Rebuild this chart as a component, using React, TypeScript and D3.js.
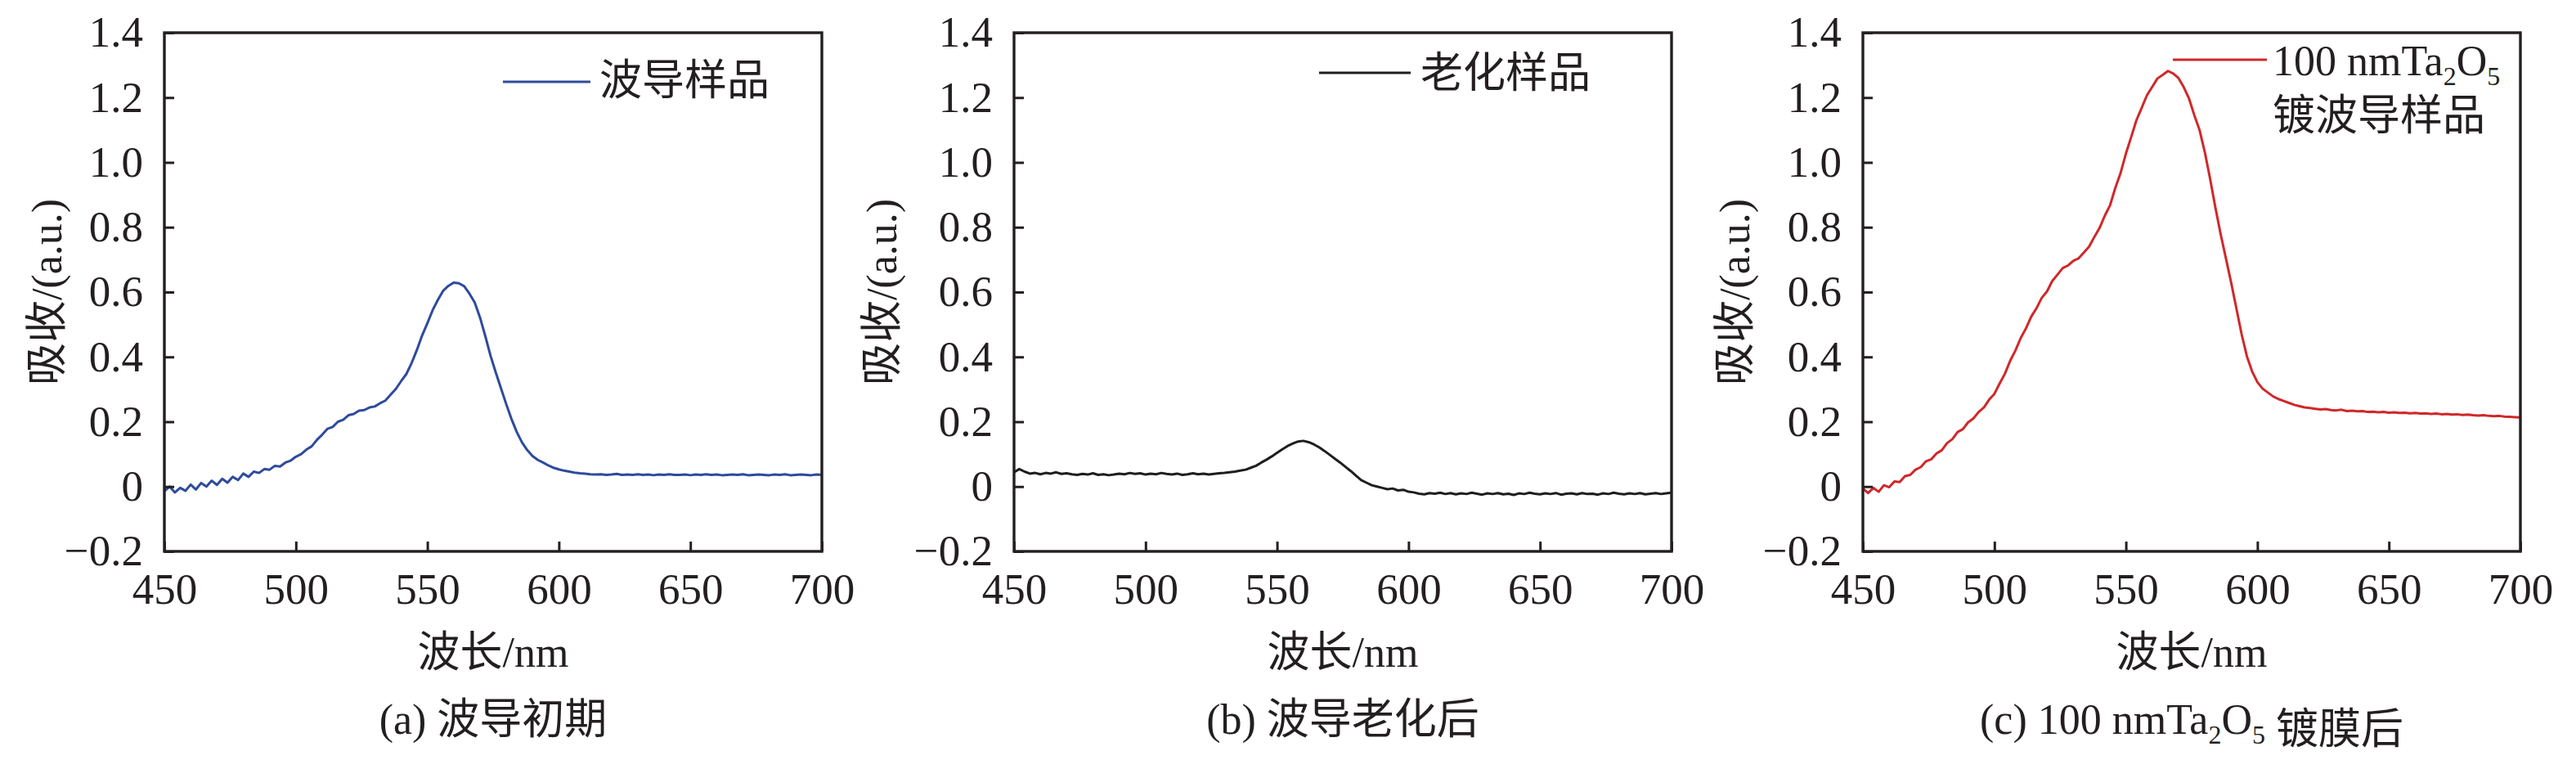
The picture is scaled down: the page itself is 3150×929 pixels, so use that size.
import { useEffect, useRef } from "react";
import * as d3 from "d3";

// wavelength grid, nm (2 nm sampling)
const wavelengths = d3.range(450, 701, 2);

// (a) 波导初期 — initial waveguide
const initialAbs = [
  -0.014, 0.0, -0.018, -0.004, -0.013, 0.006, -0.009, 0.011, 0.0, 0.018,
  0.005, 0.024, 0.012, 0.03, 0.02, 0.04, 0.03, 0.046, 0.042, 0.054,
  0.052, 0.064, 0.062, 0.074, 0.08, 0.092, 0.1, 0.114, 0.124, 0.144,
  0.16, 0.178, 0.184, 0.2, 0.206, 0.22, 0.224, 0.234, 0.236, 0.244,
  0.247, 0.257, 0.265, 0.283, 0.301, 0.325, 0.347, 0.381, 0.421, 0.466,
  0.504, 0.544, 0.576, 0.604, 0.619, 0.629, 0.627, 0.618, 0.595, 0.568,
  0.522, 0.465, 0.404, 0.352, 0.303, 0.254, 0.208, 0.168, 0.136, 0.112,
  0.094, 0.082, 0.074, 0.065, 0.058, 0.053, 0.049, 0.046, 0.043, 0.041,
  0.04, 0.038, 0.037, 0.038, 0.036, 0.037, 0.039, 0.036, 0.037, 0.036,
  0.038, 0.036, 0.037, 0.035, 0.037, 0.036, 0.038, 0.036, 0.036, 0.037,
  0.035, 0.037, 0.036, 0.038, 0.036, 0.037, 0.035, 0.036, 0.037, 0.036,
  0.038, 0.035, 0.036, 0.037, 0.036, 0.035, 0.037, 0.036, 0.038, 0.035,
  0.036, 0.037, 0.036, 0.035, 0.037, 0.036,
];

// (b) 波导老化后 — aged waveguide
const agedAbs = [
  0.044, 0.054, 0.046, 0.04, 0.042, 0.038, 0.042, 0.04, 0.044, 0.039,
  0.041, 0.038, 0.036, 0.039, 0.037, 0.041, 0.036, 0.038, 0.035, 0.037,
  0.04, 0.038, 0.042, 0.039, 0.041, 0.037, 0.04, 0.038, 0.042, 0.039,
  0.037, 0.04, 0.036, 0.038, 0.041, 0.038, 0.04, 0.037, 0.039, 0.041,
  0.042, 0.044, 0.046, 0.049, 0.052, 0.058, 0.064, 0.074, 0.083, 0.093,
  0.104, 0.115, 0.125, 0.133, 0.139, 0.141, 0.137, 0.13, 0.121, 0.11,
  0.098, 0.086, 0.074, 0.061, 0.048, 0.034, 0.02, 0.012, 0.004, 0.0,
  -0.004, -0.008, -0.006, -0.012, -0.01, -0.016, -0.018, -0.022, -0.024, -0.02,
  -0.022, -0.019, -0.023, -0.02, -0.024, -0.021, -0.023, -0.019, -0.022, -0.025,
  -0.021, -0.023, -0.02, -0.024, -0.022, -0.026, -0.021, -0.023, -0.019, -0.022,
  -0.024, -0.021, -0.023, -0.02, -0.025, -0.022, -0.021, -0.024, -0.02, -0.023,
  -0.022, -0.025, -0.021, -0.023, -0.019, -0.022, -0.024, -0.021, -0.023, -0.02,
  -0.024, -0.022, -0.02, -0.023, -0.021, -0.019,
];

// (c) 100 nm Ta2O5 coated waveguide
const coatedAbs = [
  -0.006, -0.02, -0.004, -0.016, 0.004, -0.002, 0.016, 0.014, 0.032, 0.036,
  0.052, 0.06, 0.078, 0.084, 0.102, 0.112, 0.134, 0.146, 0.168, 0.177,
  0.198, 0.21, 0.23, 0.244, 0.268, 0.286, 0.318, 0.348, 0.388, 0.42,
  0.458, 0.488, 0.524, 0.55, 0.582, 0.602, 0.634, 0.654, 0.674, 0.682,
  0.696, 0.704, 0.722, 0.74, 0.77, 0.798, 0.836, 0.868, 0.922, 0.968,
  1.027, 1.078, 1.13, 1.168, 1.207, 1.233, 1.259, 1.27, 1.282, 1.274,
  1.26, 1.232, 1.197, 1.146, 1.1, 1.032, 0.95, 0.862, 0.78, 0.705,
  0.63, 0.55, 0.47, 0.402, 0.355, 0.322, 0.302, 0.29, 0.278, 0.27,
  0.264, 0.258, 0.252, 0.248, 0.244, 0.242, 0.24, 0.238, 0.239, 0.236,
  0.235, 0.237, 0.233, 0.234, 0.232, 0.233, 0.23, 0.231, 0.229, 0.23,
  0.228, 0.229, 0.227, 0.228, 0.226, 0.227, 0.225, 0.226, 0.224, 0.225,
  0.223, 0.224, 0.222, 0.223, 0.221, 0.222, 0.22, 0.219, 0.22, 0.218,
  0.217, 0.218, 0.216, 0.215, 0.214, 0.213,
];

const xTicks = [450, 500, 550, 600, 650, 700];
const yTicks = [-0.2, 0, 0.2, 0.4, 0.6, 0.8, 1.0, 1.2, 1.4];

const FONT = '"Liberation Serif", "Noto Sans CJK SC", serif';
const INK = "#231f20";
const W = 804;
const H = 634;
const TOP = 40;

type PanelProps = {
  left: number;
  ylabelX: number;
  values: number[];
  color: string;
  legend: { x1: number; x2: number; y: number };
  children?: React.ReactNode;
  caption: React.ReactNode;
};

const Panel = ({ left, ylabelX, values, color, legend, children, caption }: PanelProps) => {
  const xRef = useRef<SVGGElement>(null);
  const yRef = useRef<SVGGElement>(null);
  const x = d3.scaleLinear().domain([450, 700]).range([0, W]);
  const y = d3.scaleLinear().domain([-0.2, 1.4]).range([H, 0]);

  useEffect(() => {
    const fmt = (d: d3.NumberValue) => (+d === 0 ? "0" : d3.format(".1f")(+d));
    const gy = d3.select(yRef.current!);
    gy.selectAll("*").remove();
    gy.call(
      d3.axisLeft(y).tickValues(yTicks).tickSizeInner(-12).tickSizeOuter(0).tickPadding(26).tickFormat(fmt)
    );
    const gx = d3.select(xRef.current!);
    gx.selectAll("*").remove();
    gx.call(d3.axisBottom(x).tickValues(xTicks).tickSizeInner(-12).tickSizeOuter(0).tickPadding(26));
    [gx, gy].forEach((g) => {
      g.select(".domain").remove();
      g.selectAll(".tick line").attr("stroke", INK).attr("stroke-width", 3);
      g.selectAll(".tick text").attr("fill", INK).attr("font-size", 53).attr("font-family", FONT);
    });
  }, []);

  const line = d3
    .line<number>()
    .x((_, i) => x(wavelengths[i]))
    .y((d) => y(d));

  return (
    <g transform={`translate(${left},${TOP})`}>
      <path d={line(values) ?? ""} fill="none" stroke={color} strokeWidth={3} strokeLinejoin="round" />
      <g ref={yRef} />
      <g ref={xRef} transform={`translate(0,${H})`} />
      <rect x={0} y={0} width={W} height={H} fill="none" stroke={INK} strokeWidth={3.4} />
      <line x1={legend.x1 - left} x2={legend.x2 - left} y1={legend.y - TOP} y2={legend.y - TOP} stroke={color} strokeWidth={3} />
      {children}
      <text
        transform={`translate(${ylabelX - left},${H / 2}) rotate(-90)`}
        textAnchor="middle"
        dominantBaseline="central"
        fontSize={52}
        fontFamily={FONT}
        fill={INK}
      >
        吸收/(a.u.)
      </text>
      <text x={W / 2} y={815 - TOP} textAnchor="middle" fontSize={52} fontFamily={FONT} fill={INK}>
        波长/nm
      </text>
      <text x={W / 2} y={897 - TOP} textAnchor="middle" fontSize={52} fontFamily={FONT} fill={INK}>
        {caption}
      </text>
    </g>
  );
};

export default function App() {
  const legendText = (x: number, yy: number, s: React.ReactNode, left: number) => (
    <text x={x - left} y={yy - TOP} fontSize={52} fontFamily={FONT} fill={INK}>
      {s}
    </text>
  );
  const ta2o5 = (
    <>
      Ta
      <tspan fontSize={32} dy={12}>2</tspan>
      <tspan dy={-12}>O</tspan>
      <tspan fontSize={32} dy={12}>5</tspan>
      <tspan dy={-12}></tspan>
    </>
  );
  return (
    <svg
      width={3150}
      height={929}
      style={{ position: "absolute", left: 0, top: 0, background: "#fff" }}
    >
      <Panel
        left={201}
        ylabelX={57}
        values={initialAbs}
        color="#2e4b9c"
        legend={{ x1: 615, x2: 722, y: 100 }}
        caption="(a) 波导初期"
      >
        {legendText(733, 116, "波导样品", 201)}
      </Panel>
      <Panel
        left={1240}
        ylabelX={1078}
        values={agedAbs}
        color="#1e1e1e"
        legend={{ x1: 1613, x2: 1725, y: 89 }}
        caption="(b) 波导老化后"
      >
        {legendText(1737, 107, "老化样品", 1240)}
      </Panel>
      <Panel
        left={2278}
        ylabelX={2121}
        values={coatedAbs}
        color="#d0282a"
        legend={{ x1: 2657, x2: 2772, y: 73 }}
        caption={
          <>
            (c) 100 nm{ta2o5} 镀膜后
          </>
        }
      >
        {legendText(2779, 92, <>100 nm{ta2o5}</>, 2278)}
        {legendText(2779, 159, "镀波导样品", 2278)}
      </Panel>
    </svg>
  );
}
